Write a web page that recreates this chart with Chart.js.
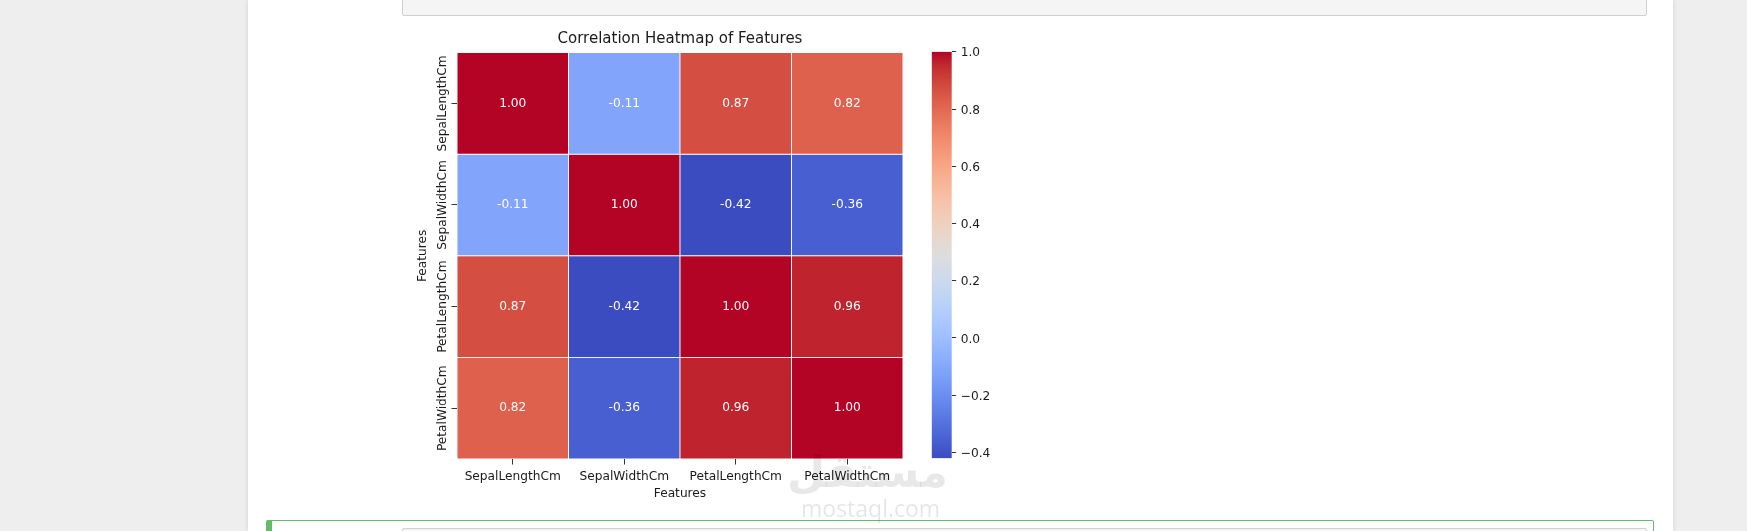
<!DOCTYPE html>
<html>
<head>
<meta charset="utf-8">
<script src="https://cdn.jsdelivr.net/npm/chart.js@4.4.1/dist/chart.umd.min.js"></script>
<style>
html,body{margin:0;padding:0;width:1747px;height:531px;overflow:hidden;background:#eeeeee;font-family:"DejaVu Sans",sans-serif;}
#page{position:absolute;left:248px;top:0;width:1425px;height:531px;background:#fff;box-shadow:0 0 5px rgba(0,0,0,0.12);}
#topbox{position:absolute;left:402px;top:-4px;width:1243px;height:18px;background:#f5f5f5;border:1px solid #cfcfcf;border-radius:2px;}
#greenbox{position:absolute;left:266px;top:520px;width:1381px;height:30px;border:1px solid #66bb6a;border-left:6px solid #66bb6a;border-radius:2px;}
#botbox{position:absolute;left:402px;top:528px;width:1243px;height:20px;background:#f5f5f5;border:1px solid #cfcfcf;border-radius:2px;}
#main{position:absolute;left:370px;top:20px;}
#cbar{position:absolute;left:921px;top:40px;}
#wm1{position:absolute;left:810px;top:446px;width:138px;text-align:center;font:bold 44px "DejaVu Sans";color:rgba(0,0,0,0.09);direction:rtl;z-index:5;}
#wm2{position:absolute;left:801px;top:492px;font:23px "Open Sans";color:rgba(0,0,0,0.1);z-index:5;}
</style>
</head>
<body>
<div id="page"></div>
<div id="topbox"></div>
<div id="greenbox"></div>
<div id="botbox"></div>
<canvas id="main" width="620" height="490"></canvas>
<canvas id="cbar" width="81" height="430"></canvas>
<div id="wm1">مستقل</div>
<div id="wm2">mostaql.com</div>
<script>
// ---- data ----
const features = ['SepalLengthCm', 'SepalWidthCm', 'PetalLengthCm', 'PetalWidthCm'];
const rowSepalLength = [1.00, -0.11, 0.87, 0.82];
const rowSepalWidth  = [-0.11, 1.00, -0.42, -0.36];
const rowPetalLength = [0.87, -0.42, 1.00, 0.96];
const rowPetalWidth  = [0.82, -0.36, 0.96, 1.00];
const colorbarTicks = [-0.4, -0.2, 0.0, 0.2, 0.4, 0.6, 0.8, 1.0];
const vmin = -0.42;
const vmax = 1.0;
const chartTitle = 'Correlation Heatmap of Features';
const xTitle = 'Features';
const yTitle = 'Features';

const rows = [rowSepalLength, rowSepalWidth, rowPetalLength, rowPetalWidth];

// coolwarm colormap anchors
const CW = [
 [59,76,192],[68,90,204],[77,104,215],[87,117,225],[98,130,234],[108,142,241],[119,154,247],[130,165,251],
 [141,176,254],[152,185,255],[163,194,255],[174,201,253],[184,208,249],[194,213,244],[204,217,238],[213,219,230],
 [221,221,221],[229,216,209],[236,211,197],[241,204,184],[245,196,173],[247,187,160],[247,177,148],[247,166,135],
 [244,154,123],[241,141,111],[236,127,99],[229,112,88],[222,96,77],[213,80,66],[203,62,56],[192,40,47],[180,4,38]
];
function coolwarm(t){
  t = Math.max(0, Math.min(1, t));
  const p = t * (CW.length - 1);
  const i = Math.min(CW.length - 2, Math.floor(p));
  const f = p - i;
  const c = CW[i].map((v, k) => Math.round(v + (CW[i+1][k] - v) * f));
  return `rgb(${c[0]},${c[1]},${c[2]})`;
}

const FONT = 'DejaVu Sans';
const TXT = '#1a1a1a';
Chart.defaults.font.family = FONT;

const datasets = rows.map((vals, i) => ({
  label: features[i],
  data: vals.map(() => [i, i + 1]),
  values: vals,
  backgroundColor: vals.map(v => coolwarm((v - vmin) / (vmax - vmin))),
  borderColor: '#ffffff',
  borderWidth: 0.8,
  borderSkipped: false,
  barPercentage: 1,
  categoryPercentage: 1,
  yAxisID: 'y'
}));

const annotPlugin = {
  id: 'annot',
  afterDatasetsDraw(chart) {
    const ctx = chart.ctx;
    ctx.save();
    ctx.font = `12.2px "${FONT}"`;
    ctx.fillStyle = '#ffffff';
    ctx.textAlign = 'center';
    ctx.textBaseline = 'middle';
    chart.data.datasets.forEach((ds, i) => {
      const meta = chart.getDatasetMeta(i);
      meta.data.forEach((el, j) => {
        ctx.fillText(ds.values[j].toFixed(2), el.x, (el.y + el.base) / 2);
      });
    });
    ctx.restore();
  }
};

const yLabelPlugin = {
  id: 'ylabels',
  afterDraw(chart) {
    const ys = chart.scales.y;
    const ctx = chart.ctx;
    ctx.save();
    ctx.font = `12.2px "${FONT}"`;
    ctx.fillStyle = TXT;
    ctx.textAlign = 'center';
    ctx.textBaseline = 'middle';
    ys.ticks.forEach(t => {
      const y = ys.getPixelForValue(t.value);
      ctx.save();
      ctx.translate(ys.right - 14, y);
      ctx.rotate(-Math.PI / 2);
      ctx.fillText(features[Math.round(t.value - 0.5)], 0, 0);
      ctx.restore();
    });
    ctx.restore();
  }
};

new Chart(document.getElementById('main'), {
  type: 'bar',
  data: { labels: features, datasets },
  plugins: [annotPlugin, yLabelPlugin],
  options: {
    responsive: false,
    animation: false,
    layout: { padding: { left: 0, right: 0, top: 0, bottom: 8.8 } },
    plugins: {
      legend: { display: false },
      tooltip: { enabled: false },
      title: {
        display: true, text: chartTitle, color: TXT,
        font: { family: FONT, size: 15, weight: 'normal' },
        padding: { top: 10.6, bottom: 4.0 }
      }
    },
    scales: {
      x: {
        stacked: true,
        offset: true,
        grid: { offset: false, drawOnChartArea: false, drawTicks: true, tickLength: 5.5, tickColor: '#333', tickWidth: 1 },
        border: { display: false },
        ticks: { font: { family: FONT, size: 12.2 }, color: TXT, padding: 5.5, maxRotation: 0, minRotation: 0, autoSkip: false },
        title: { display: true, text: xTitle, color: TXT, font: { family: FONT, size: 12.2 }, padding: { top: 0, bottom: 0 } },
        afterFit: s => { s.height = 42.2; }
      },
      y: {
        min: 0, max: 4, reverse: true,
        afterBuildTicks: s => { s.ticks = [0.5, 1.5, 2.5, 3.5].map(v => ({ value: v })); },
        ticks: { display: false },
        grid: { drawOnChartArea: false, drawTicks: true, tickLength: 5.5, tickColor: '#333', tickWidth: 1 },
        border: { display: false },
        title: { display: true, text: yTitle, color: TXT, font: { family: FONT, size: 12.2 }, padding: { top: 45.3, bottom: 0 } },
        afterFit: s => { s.width = 87; }
      },
      yRightSpacer: {
        type: 'linear',
        position: 'right',
        ticks: { display: false },
        grid: { display: false, drawTicks: false },
        border: { display: false },
        afterFit: s => { s.width = 87; }
      }
    }
  }
});

// colorbar
new Chart(document.getElementById('cbar'), {
  type: 'bar',
  data: {
    labels: [''],
    datasets: [{
      data: [[vmin, vmax]],
      borderWidth: 0,
      barPercentage: 1,
      categoryPercentage: 1,
      backgroundColor: (c) => {
        const a = c.chart.chartArea;
        if (!a) return '#ccc';
        const g = c.chart.ctx.createLinearGradient(0, a.bottom, 0, a.top);
        CW.forEach((col, k) => g.addColorStop(k / (CW.length - 1), `rgb(${col[0]},${col[1]},${col[2]})`));
        return g;
      }
    }]
  },
  options: {
    responsive: false,
    animation: false,
    layout: { padding: { left: 10.7, right: 0, top: 11.3, bottom: 11 } },
    plugins: { legend: { display: false }, tooltip: { enabled: false } },
    scales: {
      x: { display: false },
      y: {
        position: 'right',
        min: vmin, max: vmax,
        afterBuildTicks: s => { s.ticks = colorbarTicks.map(v => ({ value: v })); },
        ticks: {
          font: { family: FONT, size: 12.2 }, color: TXT, padding: 4.5, labelOffset: 1.5,
          callback: v => (v < -1e-9 ? '\u2212' : '') + Math.abs(v).toFixed(1)
        },
        grid: { drawOnChartArea: false, drawTicks: true, tickLength: 4.5, tickColor: '#333', tickWidth: 1 },
        border: { display: false },
        afterFit: s => { s.width = 50.3; }
      }
    }
  }
});
</script>
</body>
</html>
